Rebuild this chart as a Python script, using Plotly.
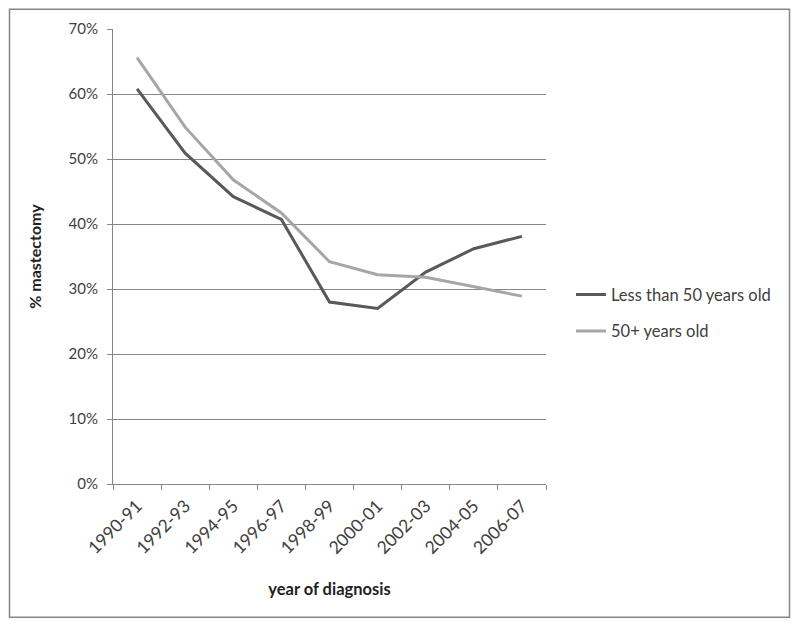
import plotly.graph_objects as go

categories = ["1990-91", "1992-93", "1994-95", "1996-97", "1998-99",
              "2000-01", "2002-03", "2004-05", "2006-07"]
under50 = [60.8, 50.9, 44.2, 40.7, 28.0, 27.0, 32.6, 36.2, 38.1]
over50 = [65.6, 54.9, 46.8, 41.7, 34.2, 32.2, 31.8, 30.3, 28.9]
y_ticks = [0, 10, 20, 30, 40, 50, 60, 70]
y_tick_labels = ["0%", "10%", "20%", "30%", "40%", "50%", "60%", "70%"]

FONT = "Lato"
OFF = 8  # page body margin
FW, FH = 800 - OFF, 627 - OFF

fig = go.Figure()
fig.add_trace(go.Scatter(x=categories, y=under50, mode="lines",
                         name="Less than 50 years old", legendgroup="a",
                         line=dict(color="#595959", width=3)))
fig.add_trace(go.Scatter(x=categories, y=over50, mode="lines",
                         name="50+ years old", legendgroup="b",
                         line=dict(color="#a6a6a6", width=3)))

# target plot area in window pixels
L, R, T, B = 113, 546, 29.3, 484.3
W, H = R - L, B - T

fig.update_layout(
    width=FW, height=FH,
    margin=dict(l=L - OFF, r=FW - (R - OFF), t=T - OFF, b=FH - (B - OFF), pad=0),
    paper_bgcolor="white", plot_bgcolor="white",
    font=dict(family=FONT, size=14, color="#404040"),
    showlegend=True,
    legend=dict(x=(571 - L) / W, y=(B - 313) / H, xanchor="left", yanchor="middle",
                font=dict(family=FONT, size=16.5, color="#404040"),
                itemwidth=30, tracegroupgap=12, traceorder="grouped",
                bgcolor="rgba(0,0,0,0)"),
    xaxis=dict(type="category", range=[-0.5, 8.5], tickson="boundaries",
               ticks="outside", ticklen=5, tickcolor="#868686",
               ticklabelstandoff=4,
               showline=True, linecolor="#868686", linewidth=1,
               showgrid=False, tickangle=-45,
               tickfont=dict(family=FONT, size=17.5, color="#404040"),
               title=dict(text="<b>year of diagnosis</b>", standoff=26,
                          font=dict(family=FONT, size=16.5, color="#222222"))),
    yaxis=dict(range=[0, 70], tickvals=y_ticks, ticktext=y_tick_labels,
               ticks="outside", ticklen=5, tickcolor="#868686",
               ticklabelstandoff=6,
               showline=True, linecolor="#868686", linewidth=1,
               showgrid=True, gridcolor="#868686", gridwidth=1,
               zeroline=False,
               tickfont=dict(family=FONT, size=15, color="#404040"),
               title=dict(text="<b>% mastectomy</b>", standoff=22,
                          font=dict(family=FONT, size=16, color="#222222"))),
    shapes=[dict(type="rect", xref="paper", yref="paper",
                 x0=(9.5 - L) / W, x1=(789.5 - L) / W,
                 y0=(B - 617.5) / H, y1=(B - 9.5) / H,
                 line=dict(color="#868686", width=1.5), fillcolor="rgba(0,0,0,0)",
                 layer="below")],
)

fig.write_html("out.html")
